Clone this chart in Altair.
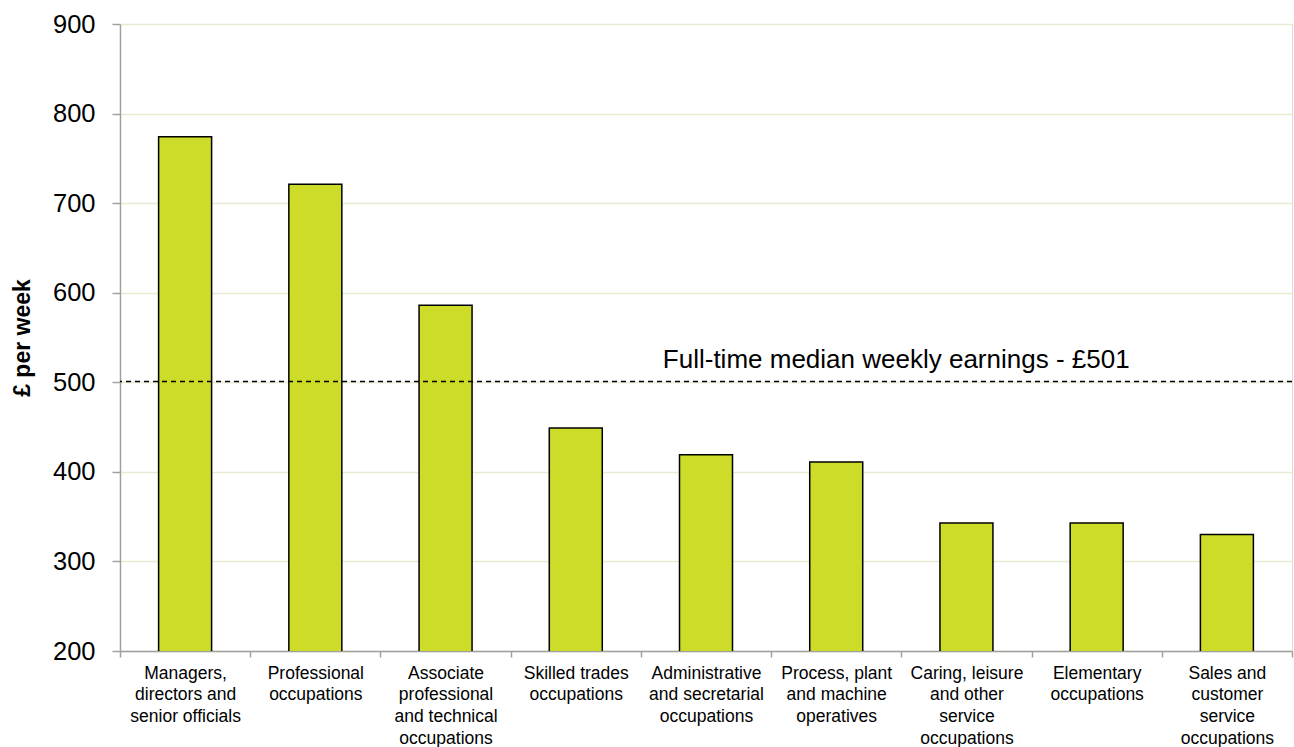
import altair as alt
import pandas as pd

label_lines = [
    ["Managers,", "directors and", "senior officials"],
    ["Professional", "occupations"],
    ["Associate", "professional", "and technical", "occupations"],
    ["Skilled trades", "occupations"],
    ["Administrative", "and secretarial", "occupations"],
    ["Process, plant", "and machine", "operatives"],
    ["Caring, leisure", "and other", "service", "occupations"],
    ["Elementary", "occupations"],
    ["Sales and", "customer", "service", "occupations"],
]
values = [774, 721, 586, 449, 419, 411, 343, 343, 330]
median_value = 501
median_label = "Full-time median weekly earnings - £501"

categories = ["\n".join(l) for l in label_lines]
df = pd.DataFrame({"occupation": categories, "earnings": values})

x_scale = alt.Scale(domain=categories, paddingInner=0, paddingOuter=0)

x_enc = alt.X(
    "occupation:N",
    title=None,
    scale=x_scale,
    axis=alt.Axis(
        labelExpr="datum.value ? split(datum.value, '\\n') : ''",
        labelAngle=0,
        labelFont="Liberation Sans",
        labelFontSize=17.5,
        labelColor="black",
        labelLineHeight=21.7,
        labelPadding=7,
        labelBaseline="top",
        tickBand="extent",
        tickSize=6,
        tickColor="#A0A0A0",
        tickWidth=1.5,
        domainColor="#A0A0A0",
        domainWidth=1.5,
        grid=False,
    ),
)

bars = alt.Chart(df).mark_bar(
    color="#CCDC28", stroke="black", strokeWidth=1.5, size=53, clip=True
).encode(
    x=x_enc,
    y=alt.Y(
        "earnings:Q",
        scale=alt.Scale(domain=[200, 900], zero=False, nice=False),
        title="£ per week",
        axis=alt.Axis(
            values=[200, 300, 400, 500, 600, 700, 800, 900],
            labelFont="Liberation Sans",
            labelFontSize=25.5,
            labelColor="black",
            labelPadding=17,
            tickSize=8,
            tickColor="#A0A0A0",
            tickWidth=1.5,
            domainColor="#A0A0A0",
            domainWidth=1.5,
            gridColor="#E4ECD2",
            gridWidth=1.5,
            titleFont="Liberation Sans",
            titleFontSize=23,
            titleFontWeight="bold",
            titleColor="black",
            titlePadding=18,
        ),
    ),
)

ref_df = pd.DataFrame({"y": [median_value], "label": [median_label], "pos": [categories[5]]})

rule = alt.Chart(ref_df).mark_rule(
    color="black", strokeDash=[5, 4], strokeWidth=1.5
).encode(y="y:Q")

text = alt.Chart(ref_df).mark_text(
    font="Liberation Sans", fontSize=26, color="black", dx=60, dy=-13,
    align="center", baseline="alphabetic"
).encode(
    x=alt.X("pos:N", scale=x_scale),
    y="y:Q",
    text="label:N",
)

chart = alt.layer(bars, rule, text).properties(
    width=1172,
    height=627,
    autosize=alt.AutoSizeParams(type="none"),
    padding={"left": 120, "top": 24, "right": 2, "bottom": 96},
).configure_view(stroke=None).configure(background="white")

chart.save("out.html", embed_options={"renderer": "svg", "actions": False})
